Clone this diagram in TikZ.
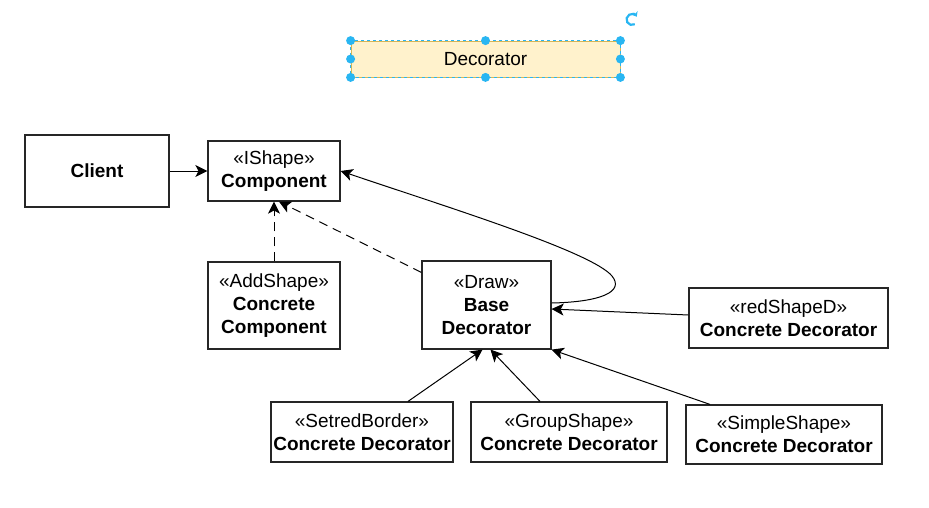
\documentclass[tikz,border=0pt]{standalone}
\usepackage{fontspec}
\setmainfont{Liberation Sans}
\usetikzlibrary{arrows.meta}
\definecolor{selblue}{HTML}{29B6F2}
\definecolor{noteyellow}{HTML}{FFF2CC}
\definecolor{noteedge}{HTML}{D6B656}
\tikzset{
  box/.style={draw=black!85, line width=1.2pt, fill=white, align=center, inner sep=0pt,
    font=\fontsize{19}{23}\selectfont},
  tip/.tip={Stealth[length=12pt,width=12pt,inset=3pt]},
  arr/.style={line width=1pt, -tip},
  dasharr/.style={arr, dash pattern=on 9pt off 6pt},
  handle/.style={circle, fill=selblue, inner sep=0pt, minimum size=9pt}
}
\begin{document}
\begin{tikzpicture}[x=1pt,y=-1pt]
\useasboundingbox (0,0) rectangle (929,507);
% selected note
\node[box, draw=noteedge, fill=noteyellow, line width=0.8pt, minimum width=269pt, minimum height=36pt] (note) at (485.5,59) {Decorator};
\draw[selblue, line width=0.8pt, dash pattern=on 3pt off 3pt] (note.north west) rectangle (note.south east);
\foreach \a in {north west,north,north east,west,east,south west,south,south east}
  \node[handle] at (note.\a) {};
\coordinate (rot) at (632,29);
\draw[selblue, line width=2.2pt, -{Stealth[length=4.5pt,width=7pt]}] ([shift={(60:5.5pt)}]rot) arc[start angle=-60, end angle=-330, radius=5.5pt];

% nodes
\node[box, minimum width=144pt, minimum height=72pt] (client) at (97,171) {\textbf{Client}};
\node[box, minimum width=132pt, minimum height=60pt] (comp) at (274,171) {«IShape»\\\textbf{Component}};
\node[box, minimum width=132pt, minimum height=87pt] (add) at (274,305.5) {«AddShape»\\\textbf{Concrete}\\\textbf{Component}};
\node[box, minimum width=129pt, minimum height=88pt] (base) at (486.5,305) {«Draw»\\\textbf{Base}\\\textbf{Decorator}};
\node[box, minimum width=199pt, minimum height=60pt] (red) at (788.5,318) {«redShapeD»\\\textbf{Concrete Decorator}};
\node[box, minimum width=182pt, minimum height=60pt] (set) at (362,432) {«SetredBorder»\\\textbf{Concrete Decorator}};
\node[box, minimum width=196pt, minimum height=60pt] (group) at (569,432) {«GroupShape»\\\textbf{Concrete Decorator}};
\node[box, minimum width=196pt, minimum height=59pt] (simple) at (784,434.5) {«SimpleShape»\\\textbf{Concrete Decorator}};

% connectors
\draw[arr] (client.east) -- (comp.west);
\draw[dasharr] (add.north) -- (comp.south);
\draw[dasharr] ([yshift=-12pt]base.north west) -- ([xshift=5pt]comp.south);
\draw[arr] ([yshift=2pt]base.east) .. controls (600,302) and (625,292) .. (612,276)
  .. controls (592,252) and (450,208) .. (comp.east);
\draw[arr] ([yshift=3pt]red.west) -- ([yshift=-4pt]base.east);
\draw[arr] ([xshift=46pt]set.north) -- ([xshift=-4pt]base.south);
\draw[arr] ([xshift=-29pt]group.north) -- ([xshift=4pt]base.south);
\draw[arr] ([xshift=-74pt]simple.north) -- (base.south east);
\end{tikzpicture}
\end{document}
